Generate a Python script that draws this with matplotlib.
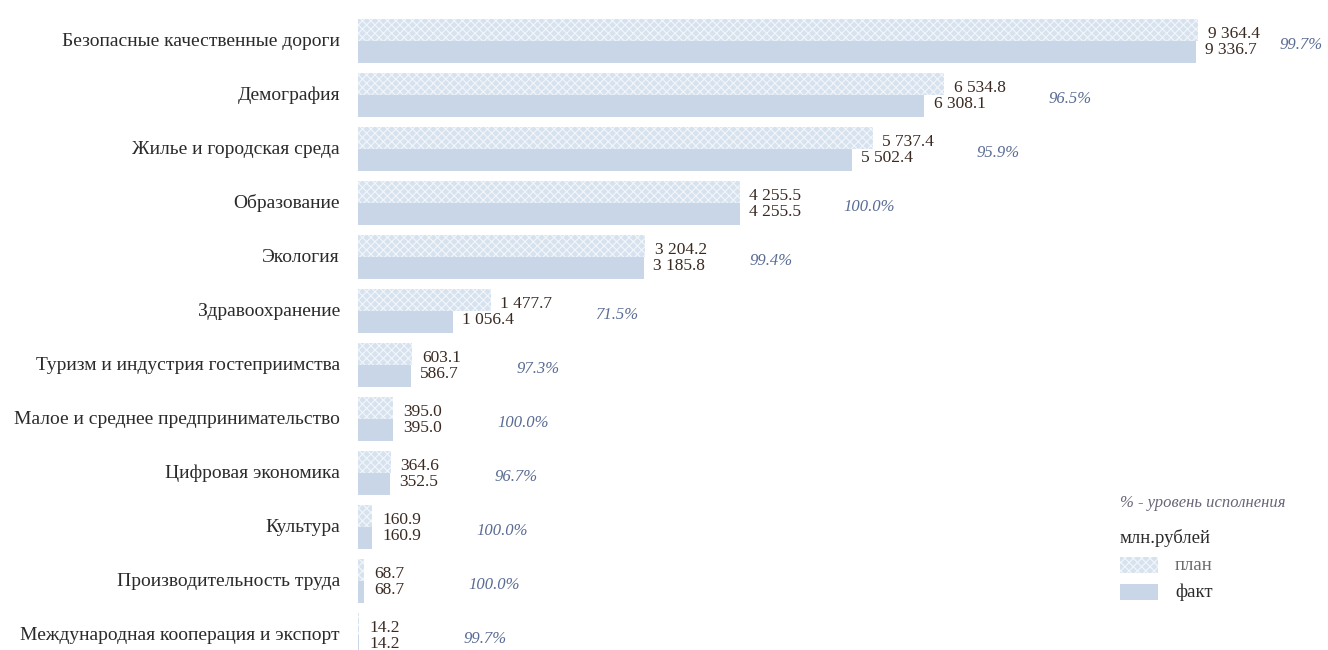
import matplotlib
matplotlib.use("Agg")
import matplotlib.pyplot as plt
from matplotlib.patches import Rectangle
import numpy as np

categories = [
    "Безопасные качественные дороги",
    "Демография",
    "Жилье и городская среда",
    "Образование",
    "Экология",
    "Здравоохранение",
    "Туризм и индустрия гостеприимства",
    "Малое и среднее предпринимательство",
    "Цифровая экономика",
    "Культура",
    "Производительность труда",
    "Международная кооперация и экспорт",
]
plan = [9364.4, 6534.8, 5737.4, 4255.5, 3204.2, 1477.7, 603.1, 395.0, 364.6, 160.9, 68.7, 14.2]
fact = [9336.7, 6308.1, 5502.4, 4255.5, 3185.8, 1056.4, 586.7, 395.0, 352.5, 160.9, 68.7, 14.2]
pct = [99.7, 96.5, 95.9, 100.0, 99.4, 71.5, 97.3, 100.0, 96.7, 100.0, 100.0, 99.7]

plt.rcParams["font.family"] = ["Liberation Serif", "DejaVu Serif"]
plt.rcParams["hatch.linewidth"] = 0.8

W, H = 1328, 650
fig = plt.figure(figsize=(W / 100, H / 100), dpi=100)
left_px = 358
ax = fig.add_axes([left_px / W, 0, 1 - left_px / W, 1])
px_per_unit = 840 / 9364.4
ax.set_xlim(0, (W - left_px) / px_per_unit)
row_px = 54
ax.set_ylim(11 + (H - 635) / row_px, -41 / row_px)
ax.axis("off")

plan_col = "#d7e2ef"
fact_col = "#c9d6e8"
y = np.arange(len(categories))
ax.barh(y - 0.2, plan, height=0.4, color=plan_col, hatch="xxxx", edgecolor="#f2f6fb", linewidth=0)
ax.barh(y + 0.2, fact, height=0.4, color=fact_col, linewidth=0)

def fmt(v):
    return f"{v:,.1f}".replace(",", " ")

val_col = "#3b2a22"
pct_col = "#5a6c94"
pt = 100 / 72
for i in range(len(categories)):
    ax.text(-18 / px_per_unit, i, categories[i], ha="right", va="center",
            fontsize=14, color="#2b2b2b")
    ax.annotate(fmt(plan[i]), (plan[i], i - 0.13), xytext=(7, 0), textcoords="offset points",
                ha="left", va="center", fontsize=12.5, color=val_col)
    ax.annotate(fmt(fact[i]), (fact[i], i + 0.16), xytext=(7, 0), textcoords="offset points",
                ha="left", va="center", fontsize=12.5, color=val_col)
    plan_px = left_px + plan[i] * px_per_unit
    off = min(75, (W - 48 - plan_px) / pt)
    ax.annotate(f"{pct[i]:.1f}%", (plan[i], i + 0.07), xytext=(off, 0), textcoords="offset points",
                ha="left", va="center", fontsize=12, color=pct_col, style="italic")

# legend
fig.text(1120 / W, 1 - 503 / H, "% - уровень исполнения", fontsize=12, style="italic",
         color="#6a6478", va="center", ha="left")
fig.text(1120 / W, 1 - 538 / H, "млн.рублей", fontsize=13.5, color="#2b2b2b", va="center", ha="left")
fig.patches.append(Rectangle((1120 / W, 1 - 573 / H), 38 / W, 16 / H, transform=fig.transFigure,
                             facecolor=plan_col, hatch="xxxx", edgecolor="#f2f6fb", linewidth=0))
fig.patches.append(Rectangle((1120 / W, 1 - 600 / H), 38 / W, 16 / H, transform=fig.transFigure,
                             facecolor=fact_col, linewidth=0))
fig.text(1175 / W, 1 - 565 / H, "план", fontsize=13.5, color="#6a6a6a", va="center", ha="left")
fig.text(1175 / W, 1 - 592 / H, "факт", fontsize=13.5, color="#2b2b2b", va="center", ha="left")

fig.savefig("out.png", dpi=100)
